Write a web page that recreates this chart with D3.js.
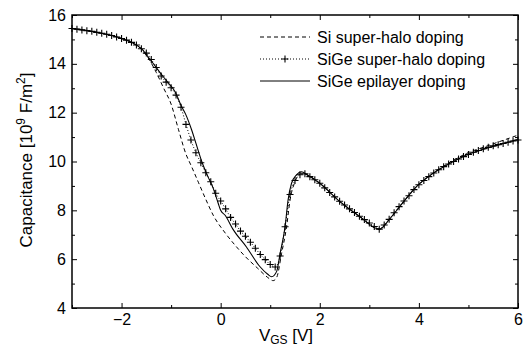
<!DOCTYPE html>
<html>
<head>
<meta charset="utf-8">
<script src="https://cdn.jsdelivr.net/npm/d3@7"></script>
<style>
  body { margin: 0; background: #fff; }
  svg text { font-family: "Liberation Sans", Arial, sans-serif; fill: #000; }
</style>
</head>
<body>
<div id="chart"></div>
<script>
// Si super-halo doping (dashed)
let siV = [-3, -2.5, -2, -1.8, -1.6, -1.45, -1.3, -1.15, -1.0, -0.85, -0.7, -0.6, -0.45, -0.3, -0.15, 0.1, 0.3, 0.5, 0.75, 0.95, 1.06, 1.13, 1.23, 1.33, 1.4, 1.5, 1.63, 1.75, 2.0, 2.41, 2.81, 3.2, 3.42, 3.69, 3.95, 4.29, 4.63, 4.96, 5.37, 6.0];
let siC = [15.45, 15.29, 15.04, 14.88, 14.6, 14.2, 13.65, 13.0, 12.35, 11.3, 10.3, 9.85, 9.15, 8.45, 7.8, 7.05, 6.55, 6.1, 5.62, 5.25, 5.12, 5.25, 6.24, 7.33, 8.42, 9.17, 9.52, 9.45, 9.11, 8.35, 7.74, 7.23, 7.67, 8.35, 8.97, 9.53, 9.97, 10.33, 10.63, 11.08];

// SiGe epilayer doping (solid)
let epiV = [-3, -2.5, -2, -1.8, -1.6, -1.45, -1.3, -1.15, -1.05, -0.92, -0.8, -0.71, -0.585, -0.5, -0.38, -0.25, -0.15, -0.05, 0, 0.09, 0.25, 0.52, 0.79, 0.95, 1.03, 1.13, 1.2, 1.3, 1.36, 1.43, 1.53, 1.63, 1.75, 2.0, 2.41, 2.81, 3.2, 3.42, 3.69, 3.95, 4.29, 4.63, 4.96, 5.37, 6.0];
let epiC = [15.45, 15.29, 15.04, 14.88, 14.62, 14.25, 13.85, 13.45, 13.2, 12.86, 12.3, 11.95, 11.29, 10.75, 9.99, 9.35, 8.9, 8.29, 8.0, 7.8, 7.22, 6.5, 5.7, 5.38, 5.28, 5.5, 6.24, 7.33, 8.42, 9.11, 9.45, 9.58, 9.45, 9.11, 8.35, 7.74, 7.23, 7.67, 8.35, 8.97, 9.52, 9.93, 10.27, 10.54, 10.9];

// SiGe super-halo doping (crosses, one every 0.1 V)
let sgV = [-3.0, -2.9, -2.8, -2.7, -2.6, -2.5, -2.4, -2.3, -2.2, -2.1,
           -2.0, -1.9, -1.8, -1.7, -1.6, -1.5, -1.4, -1.3, -1.2, -1.1,
           -1.0, -0.9, -0.8, -0.7, -0.6, -0.5, -0.4, -0.3, -0.2, -0.1,
           0.0, 0.1, 0.2, 0.3, 0.4, 0.5, 0.6, 0.7, 0.8, 0.9,
           1.0, 1.1, 1.2, 1.3, 1.4, 1.5, 1.6, 1.7, 1.8, 1.9,
           2.0, 2.1, 2.2, 2.3, 2.4, 2.5, 2.6, 2.7, 2.8, 2.9,
           3.0, 3.1, 3.2, 3.3, 3.4, 3.5, 3.6, 3.7, 3.8, 3.9,
           4.0, 4.1, 4.2, 4.3, 4.4, 4.5, 4.6, 4.7, 4.8, 4.9,
           5.0, 5.1, 5.2, 5.3, 5.4, 5.5, 5.6, 5.7, 5.8, 5.9, 6.0];
let sgC = [15.45, 15.42, 15.39, 15.36, 15.33, 15.29, 15.25, 15.21, 15.16, 15.10,
           15.04, 14.97, 14.88, 14.77, 14.62, 14.44, 14.18, 13.85, 13.50, 13.25,
           13.02, 12.72, 12.22, 11.52, 10.88, 10.36, 9.95, 9.54, 9.17, 8.70,
           8.38, 8.06, 7.71, 7.44, 7.15, 6.94, 6.69, 6.45, 6.19, 5.98,
           5.78, 5.68, 6.13, 7.33, 8.65, 9.22, 9.46, 9.50, 9.38, 9.25,
           9.11, 8.92, 8.73, 8.55, 8.37, 8.22, 8.06, 7.91, 7.76, 7.62,
           7.48, 7.34, 7.23, 7.40, 7.63, 7.90, 8.15, 8.38, 8.60, 8.85,
           9.05, 9.22, 9.38, 9.53, 9.66, 9.79, 9.90, 10.00, 10.10, 10.20,
           10.29, 10.38, 10.45, 10.52, 10.58, 10.64, 10.69, 10.74, 10.79, 10.84, 10.88];

let xMajor = [-2, 0, 2, 4, 6];
let xMinor = [-3, -1, 1, 3, 5];
let yMajor = [4, 6, 8, 10, 12, 14, 16];
let yMinor = [5, 7, 9, 11, 13, 15];

let legendItems = ["Si super-halo doping", "SiGe super-halo doping", "SiGe epilayer doping"];

// chart setup
let W = 531, H = 348;
let margin = { top: 15, right: 13, bottom: 40, left: 72 };
let width = W - margin.left - margin.right,
    height = H - margin.top - margin.bottom;

let svg = d3.select("#chart").append("svg")
    .attr("width", W)
    .attr("height", H);
let g = svg.append("g")
    .attr("transform", "translate(" + margin.left + "," + margin.top + ")");

let x = d3.scaleLinear().domain([-3, 6]).range([0, width]);
let y = d3.scaleLinear().domain([4, 16]).range([height, 0]);

// axes with inward ticks
function styleAxis(sel) {
    sel.select(".domain").remove();
    sel.selectAll(".tick line").attr("stroke", "#000").attr("stroke-width", 1);
    sel.selectAll(".tick text").attr("font-size", 16).attr("fill", "#000");
}
g.append("g").attr("transform", "translate(0," + height + ")")
    .call(d3.axisBottom(x).tickValues(xMajor).tickSize(-5).tickPadding(6).tickFormat(d3.format("d")))
    .call(styleAxis);
g.append("g").attr("transform", "translate(0," + height + ")")
    .call(d3.axisBottom(x).tickValues(xMinor).tickSize(-3).tickFormat(""))
    .call(styleAxis);
g.append("g")
    .call(d3.axisTop(x).tickValues(xMajor).tickSize(-5).tickFormat(""))
    .call(styleAxis);
g.append("g")
    .call(d3.axisTop(x).tickValues(xMinor).tickSize(-3).tickFormat(""))
    .call(styleAxis);
g.append("g")
    .call(d3.axisLeft(y).tickValues(yMajor).tickSize(-5).tickPadding(6).tickFormat(d3.format("d")))
    .call(styleAxis);
g.append("g")
    .call(d3.axisLeft(y).tickValues(yMinor).tickSize(-3).tickFormat(""))
    .call(styleAxis);
g.append("g").attr("transform", "translate(" + width + ",0)")
    .call(d3.axisRight(y).tickValues(yMajor).tickSize(-5).tickFormat(""))
    .call(styleAxis);
g.append("g").attr("transform", "translate(" + width + ",0)")
    .call(d3.axisRight(y).tickValues(yMinor).tickSize(-3).tickFormat(""))
    .call(styleAxis);

// frame
g.append("rect")
    .attr("width", width).attr("height", height)
    .attr("fill", "none").attr("stroke", "#000").attr("stroke-width", 1.5);

// curves
let line = d3.line()
    .x(function (d) { return x(d[0]); })
    .y(function (d) { return y(d[1]); })
    .curve(d3.curveMonotoneX);

let siData = siV.map(function (v, i) { return [v, siC[i]]; });
let epiData = epiV.map(function (v, i) { return [v, epiC[i]]; });
let sgData = sgV.map(function (v, i) { return [v, sgC[i]]; });

g.append("path").datum(siData)
    .attr("d", line)
    .attr("fill", "none").attr("stroke", "#000").attr("stroke-width", 1)
    .attr("stroke-dasharray", "4,3");

g.append("path").datum(sgData)
    .attr("d", line)
    .attr("fill", "none").attr("stroke", "#000").attr("stroke-width", 1)
    .attr("stroke-dasharray", "1,2");

g.append("path").datum(epiData)
    .attr("d", line)
    .attr("fill", "none").attr("stroke", "#000").attr("stroke-width", 1.1);

let cross = "M-3.5,0H3.5M0,-3.5V3.5";
g.selectAll(".cross").data(sgData).enter()
    .append("path")
    .attr("class", "cross")
    .attr("transform", function (d) { return "translate(" + x(d[0]) + "," + y(d[1]) + ")"; })
    .attr("d", cross)
    .attr("stroke", "#000").attr("stroke-width", 1.1).attr("fill", "none");

// legend
let legend = svg.append("g");
let legY = [37, 59, 81];
let dashes = ["4,3", "1,2", null];
legendItems.forEach(function (name, i) {
    legend.append("line")
        .attr("x1", 260).attr("x2", 310)
        .attr("y1", legY[i]).attr("y2", legY[i])
        .attr("stroke", "#000").attr("stroke-width", 1)
        .attr("stroke-dasharray", dashes[i]);
    if (i === 1) {
        legend.append("path")
            .attr("transform", "translate(285," + legY[i] + ")")
            .attr("d", cross)
            .attr("stroke", "#000").attr("stroke-width", 1.1);
    }
    legend.append("text")
        .attr("x", 317).attr("y", legY[i])
        .attr("dy", "0.35em")
        .attr("font-size", 16)
        .text(name);
});

// axis titles
let xt = svg.append("text")
    .attr("x", 286).attr("y", 341)
    .attr("text-anchor", "middle")
    .attr("font-size", 17);
xt.append("tspan").text("V");
xt.append("tspan").attr("font-size", 12).attr("dy", 3).text("GS");
xt.append("tspan").attr("dy", -3).text(" [V]");

let yt = svg.append("text")
    .attr("transform", "translate(32,160) rotate(-90)")
    .attr("text-anchor", "middle")
    .attr("font-size", 17);
yt.append("tspan").text("Capacitance [10");
yt.append("tspan").attr("font-size", 12).attr("dy", -7).text("9");
yt.append("tspan").attr("dy", 7).text(" F/m");
yt.append("tspan").attr("font-size", 12).attr("dy", -7).text("2");
yt.append("tspan").attr("dy", 7).text("]");
</script>
</body>
</html>
